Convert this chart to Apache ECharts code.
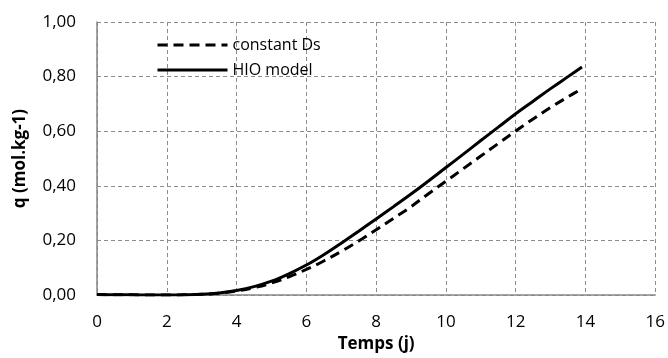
<!DOCTYPE html>
<html>
<head>
<meta charset="utf-8">
<script src="https://cdn.jsdelivr.net/npm/echarts@6/dist/echarts.min.js"></script>
<style>
  html, body { margin: 0; padding: 0; background: #fff; }
  #main { width: 668px; height: 358px; }
</style>
</head>
<body>
<div id="main"></div>
<script>
// temps (j)
var tList = [0, 0.5, 1, 1.5, 2, 2.5, 3, 3.5, 4, 4.5, 5, 5.5, 6, 6.5, 7, 7.5, 8, 8.5, 9, 9.5, 10, 10.5, 11, 11.5, 12, 12.5, 13, 13.5, 13.9];
// q, constant Ds
var constList = [0.002, 0.001, 0.001, 0.000, 0.000, 0.001, 0.003, 0.007, 0.015, 0.027, 0.044, 0.067, 0.094, 0.125, 0.160, 0.198, 0.239, 0.281, 0.324, 0.371, 0.417, 0.463, 0.509, 0.555, 0.601, 0.645, 0.687, 0.726, 0.756];
// q, HIO model
var hioList = [0.002, 0.001, 0.001, 0.000, 0.000, 0.001, 0.003, 0.008, 0.017, 0.031, 0.051, 0.078, 0.110, 0.148, 0.190, 0.234, 0.279, 0.324, 0.370, 0.418, 0.467, 0.516, 0.566, 0.615, 0.664, 0.710, 0.756, 0.800, 0.835];

function pairs(xs, ys) {
    var out = [];
    for (var i = 0; i < xs.length; i++) {
        out.push([xs[i], ys[i]]);
    }
    return out;
}

var font = '"Open Sans", "Noto Sans", sans-serif';
var gridLine = { show: true, lineStyle: { color: '#8c8c8c', type: [4, 3], width: 1 } };

var chart = echarts.init(document.getElementById('main'));
var option = {
    animation: false,
    grid: { left: 97, right: 11, top: 22, bottom: 55 },
    legend: {
        left: 151,
        top: 32,
        orient: 'vertical',
        itemWidth: 70,
        itemHeight: 14,
        itemGap: 9,
        itemStyle: { opacity: 0 },
        lineStyle: { width: 3 },
        textStyle: { fontFamily: font, fontSize: 16, color: '#000' },
        data: ['constant Ds', 'HIO model']
    },
    xAxis: {
        type: 'value',
        min: 0,
        max: 16,
        interval: 2,
        name: 'Temps (j)',
        nameLocation: 'middle',
        nameGap: 38,
        nameTextStyle: { fontFamily: font, fontSize: 17, fontWeight: 'bold', color: '#000' },
        axisLine: { show: true, lineStyle: { color: '#868686', width: 1.5 } },
        axisTick: { show: false },
        axisLabel: { fontFamily: font, fontSize: 17, color: '#000', margin: 19 },
        splitLine: gridLine
    },
    yAxis: {
        type: 'value',
        min: 0,
        max: 1,
        interval: 0.2,
        name: 'q (mol.kg-1)',
        nameLocation: 'middle',
        nameGap: 68,
        nameTextStyle: { fontFamily: font, fontSize: 17, fontWeight: 'bold', color: '#000' },
        axisLine: { show: true, lineStyle: { color: '#868686', width: 1.5 } },
        axisTick: { show: false },
        axisLabel: {
            fontFamily: font, fontSize: 17, color: '#000', margin: 21,
            formatter: function (v) { return v.toFixed(2).replace('.', ','); }
        },
        splitLine: gridLine
    },
    series: [{
        name: 'constant Ds',
        type: 'line',
        symbol: 'none',
        smooth: 0.4,
        lineStyle: { color: '#000', width: 3, type: [10, 6] },
        itemStyle: { color: '#000' },
        data: pairs(tList, constList)
    }, {
        name: 'HIO model',
        type: 'line',
        symbol: 'none',
        smooth: 0.4,
        lineStyle: { color: '#000', width: 3 },
        itemStyle: { color: '#000' },
        data: pairs(tList, hioList)
    }]
};
chart.setOption(option);
</script>
</body>
</html>
